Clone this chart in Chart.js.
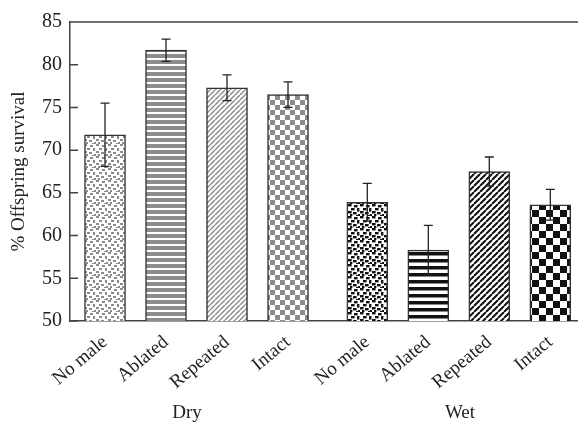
<!DOCTYPE html>
<html>
<head>
<meta charset="utf-8">
<script src="https://cdn.jsdelivr.net/npm/chart.js@4/dist/chart.umd.min.js"></script>
<style>
  html, body { margin: 0; padding: 0; background: #fff; }
  canvas { display: block; }
</style>
</head>
<body>
<canvas id="survivalChart" width="578" height="423"></canvas>
<script>
// data
const categories = ["No male", "Ablated", "Repeated", "Intact", "No male", "Ablated", "Repeated", "Intact"];
const groups = ["Dry", "Wet"];
const survival = [71.8, 81.7, 77.3, 76.5, 63.9, 58.3, 67.5, 63.6];
const survivalErr = [3.7, 1.3, 1.5, 1.5, 2.2, 2.9, 1.7, 1.8];
const yTicks = [50, 55, 60, 65, 70, 75, 80, 85];
// bar slots: 4 per group, extra gap between the groups
const slots = [0, 1, 2, 3, 4.3, 5.3, 6.3, 7.3];

const FONT = '"Liberation Serif", "DejaVu Serif", serif';
const GREY = "#8c8c8c";
const BLACK = "#111";

function makePattern(w, h, paint) {
    const c = document.createElement("canvas");
    c.width = w;
    c.height = h;
    const g = c.getContext("2d");
    g.fillStyle = "#fff";
    g.fillRect(0, 0, w, h);
    paint(g, w, h);
    return document.getElementById("survivalChart").getContext("2d").createPattern(c, "repeat");
}

function speckle(color, s) {
    return makePattern(12, 12, (g) => {
        g.fillStyle = color;
        const bits = [[0, 0, 3, 2], [6, 1, 3, 2], [3, 4, 3, 2], [9, 4, 2, 3], [0, 7, 3, 2], [5, 8, 3, 2], [10, 10, 2, 2], [2, 10, 2, 2], [8, 11, 2, 1]];
        bits.forEach(([x, y, w, h]) => g.fillRect(x, y, w * s, h * s));
    });
}

function hstripes(color, period, band) {
    return makePattern(4, period, (g) => {
        g.fillStyle = color;
        g.fillRect(0, 0, 4, band);
    });
}

function diag(color, period, lw) {
    return makePattern(period, period, (g, w, h) => {
        g.strokeStyle = color;
        g.lineWidth = lw;
        g.beginPath();
        for (let k = -1; k <= 1; k++) {
            g.moveTo(k * w, h);
            g.lineTo(k * w + w, 0);
        }
        g.stroke();
    });
}

function checker(color, cell) {
    return makePattern(cell * 2, cell * 2, (g) => {
        g.fillStyle = color;
        g.fillRect(0, 0, cell, cell);
        g.fillRect(cell, cell, cell, cell);
    });
}

const fills = [
    speckle(GREY, 1), hstripes(GREY, 6, 4), diag(GREY, 5, 1.5), checker(GREY, 5),
    speckle(BLACK, 1.2), hstripes(BLACK, 7, 3.5), diag(BLACK, 6, 2), checker(BLACK, 7),
];

const errorBars = {
    id: "errorBars",
    afterDatasetsDraw(chart) {
        const { ctx } = chart;
        const y = chart.scales.y;
        const meta = chart.getDatasetMeta(0);
        ctx.save();
        ctx.strokeStyle = "#222";
        ctx.lineWidth = 1.3;
        meta.data.forEach((bar, i) => {
            const hi = y.getPixelForValue(survival[i] + survivalErr[i]);
            const lo = y.getPixelForValue(survival[i] - survivalErr[i]);
            ctx.beginPath();
            ctx.moveTo(bar.x, hi);
            ctx.lineTo(bar.x, lo);
            ctx.moveTo(bar.x - 4.5, hi);
            ctx.lineTo(bar.x + 4.5, hi);
            ctx.moveTo(bar.x - 4.5, lo);
            ctx.lineTo(bar.x + 4.5, lo);
            ctx.stroke();
        });
        ctx.restore();
    },
};

const frame = {
    id: "frame",
    afterDraw(chart) {
        const { ctx, chartArea } = chart;
        const y = chart.scales.y;
        ctx.save();
        ctx.strokeStyle = "#444";
        ctx.lineWidth = 1.5;
        ctx.beginPath();
        ctx.moveTo(chartArea.left, chartArea.top);
        ctx.lineTo(chart.width, chartArea.top);
        yTicks.forEach((v) => {
            const py = y.getPixelForValue(v);
            ctx.moveTo(chartArea.left, py);
            ctx.lineTo(chartArea.left + 8, py);
        });
        ctx.stroke();

        // group names under the rotated labels
        ctx.fillStyle = "#222";
        ctx.font = "19px " + FONT;
        ctx.textAlign = "center";
        ctx.textBaseline = "middle";
        ctx.fillText(groups[0], 187, 413);
        ctx.fillText(groups[1], 460, 413);
        ctx.restore();
    },
};

new Chart(document.getElementById("survivalChart"), {
    type: "bar",
    data: {
        datasets: [
            {
                data: slots.map((s, i) => ({ x: s, y: survival[i] })),
                backgroundColor: fills,
                borderColor: "#333",
                borderWidth: 1.5,
                barThickness: 41,
            },
        ],
    },
    options: {
        responsive: false,
        animation: false,
        layout: { padding: { top: 22, right: 0, left: 0, bottom: 0 } },
        plugins: {
            legend: { display: false },
            tooltip: { enabled: false },
        },
        scales: {
            x: {
                type: "linear",
                offset: false,
                min: -0.574,
                max: 7.754,
                grid: { display: false },
                border: { display: true, color: "#444", width: 1.5 },
                afterBuildTicks: (scale) => {
                    scale.ticks = slots.map((v) => ({ value: v }));
                },
                afterFit: (scale) => {
                    scale.height = 102;
                },
                ticks: {
                    autoSkip: false,
                    maxRotation: 40,
                    minRotation: 40,
                    padding: 2,
                    color: "#222",
                    font: { family: FONT, size: 19 },
                    callback: (value, index) => categories[index],
                },
            },
            y: {
                min: 50,
                max: 85,
                grid: { display: false },
                border: { display: true, color: "#444", width: 1.5 },
                afterFit: (scale) => {
                    scale.width = 70;
                },
                ticks: {
                    stepSize: 5,
                    padding: 0,
                    color: "#222",
                    font: { family: FONT, size: 20 },
                },
                title: {
                    display: true,
                    text: "% Offspring survival",
                    color: "#222",
                    font: { family: FONT, size: 19 },
                    padding: { top: 8, bottom: 0 },
                },
            },
        },
    },
    plugins: [errorBars, frame],
});
</script>
</body>
</html>
